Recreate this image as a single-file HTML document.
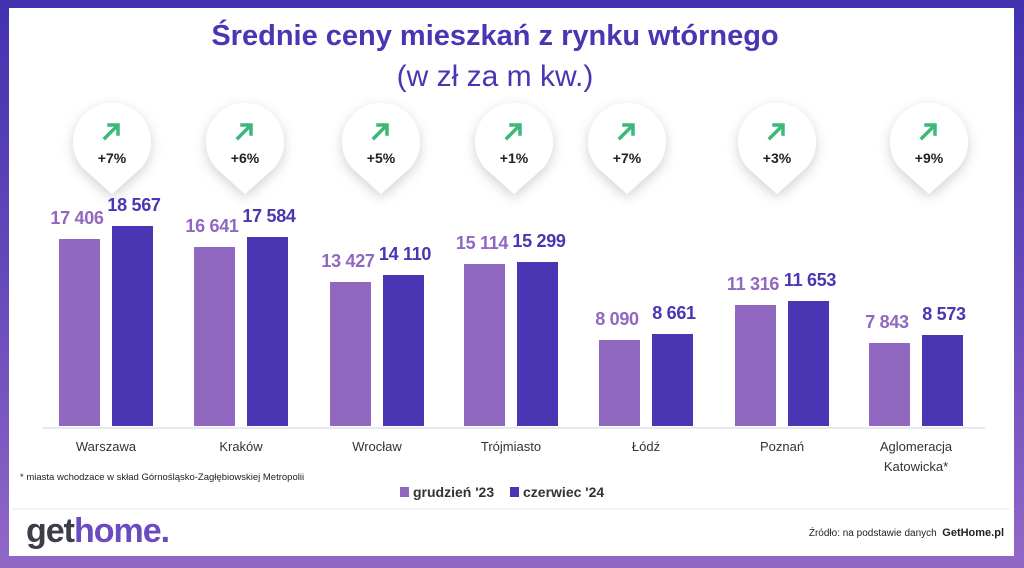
<!DOCTYPE html>
<html><head><meta charset="utf-8"><style>
body{margin:0;width:1024px;height:568px;overflow:hidden;font-family:"Liberation Sans",sans-serif;background:linear-gradient(180deg,#4232b0 0%,#6a4cbc 55%,#9168c6 100%);position:relative}
#card{position:absolute;left:9px;top:8px;width:1005px;height:548px;background:#fff}
.a{position:absolute}
.t{font-weight:bold;color:#4a36b3;font-size:29px;left:0;width:990px;text-align:center;top:20px}
.s{color:#4a36b3;font-size:30px;left:0;width:990px;text-align:center;top:60px}
.bl{background:#9068c0}.bd{background:#4a36b3}
.v{font-weight:bold;font-size:18px;text-align:center;width:80px;letter-spacing:-0.3px}
.city{font-size:13px;color:#333;text-align:center;width:120px;line-height:20px}
</style></head><body>
<div id="card"></div>
<div class="a t">Średnie ceny mieszkań z rynku wtórnego</div>
<div class="a s">(w zł za m kw.)</div>
<svg class="a" style="left:0;top:0" width="1024" height="568">
<defs><filter id="sh" x="-50%" y="-50%" width="200%" height="200%"><feDropShadow dx="0" dy="4" stdDeviation="6" flood-color="#000" flood-opacity="0.18"/></filter></defs>
<g font-family="Liberation Sans" font-weight="bold" font-size="14" text-anchor="middle" fill="#222">
<g id="bub">
</g>
</g>
<line x1="42" y1="428" x2="985" y2="428" stroke="#e4e4e8" stroke-width="1.5"/>
<line x1="12" y1="509" x2="1010" y2="509" stroke="#e8e8ec" stroke-width="1"/>
</svg>
<div id="c"></div>
<script>
var d=[["Warszawa",112,239,226,"17 406","18 567","+7%"],["Kraków",245,247,237,"16 641","17 584","+6%"],["Wrocław",381,282,275,"13 427","14 110","+5%"],["Trójmiasto",514,264,262,"15 114","15 299","+1%"],["Łódź",627,340,334,"8 090","8 661","+7%"],["Poznań",777,305,301,"11 316","11 653","+3%"],["Aglomeracja<br>Katowicka*",929,343,335,"7 843","8 573","+9%"]];
var bx=[59,194,330,464,599,735,869],h="",svg="";
d.forEach(function(e,i){var x=bx[i];
h+='<div class="a bl" style="left:'+x+'px;top:'+e[2]+'px;width:41px;height:'+(426-e[2])+'px"></div>';
h+='<div class="a bd" style="left:'+(x+53)+'px;top:'+e[3]+'px;width:41px;height:'+(426-e[3])+'px"></div>';
h+='<div class="a v" style="left:'+(x-22)+'px;top:'+(e[2]-31)+'px;color:#9068c0">'+e[4]+'</div>';
h+='<div class="a v" style="left:'+(x+35)+'px;top:'+(e[3]-31)+'px;color:#4a36b3">'+e[5]+'</div>';
h+='<div class="a city" style="left:'+(x+47-60)+'px;top:437px">'+e[0]+'</div>';
var c=e[1];
svg+='<path filter="url(#sh)" fill="#fff" d="M'+c+' 194 L'+(c-29)+' 168 A39 39 0 1 1 '+(c+29)+' 168 Z"/>';
svg+='<path d="M'+(c-7)+' 138 L'+(c+5)+' 126 M'+(c-3)+' 125 L'+(c+6)+' 125 L'+(c+6)+' 134" stroke="#3cb878" stroke-width="3.5" fill="none" stroke-linecap="square"/>';
svg+='<text x="'+c+'" y="163">'+e[6]+'</text>';
});
document.getElementById("c").innerHTML=h;
document.getElementById("bub").innerHTML=svg;
</script>
<div class="a" style="left:20px;top:472px;font-size:9.5px;color:#222">* miasta wchodzace w skład Górnośląsko-Zagłębiowskiej Metropolii</div>
<div class="a" style="left:400px;top:484px;font-size:14px;font-weight:bold;color:#333"><span style="display:inline-block;width:9px;height:10px;background:#9068c0;margin-right:4px"></span>grudzień '23 <span style="display:inline-block;width:9px;height:10px;background:#4a36b3;margin:0 4px 0 12px"></span>czerwiec '24</div>
<div class="a" style="left:26px;top:512px;font-size:34px;font-weight:bold;letter-spacing:-1px"><span style="color:#3d3d4a">get</span><span style="color:#6a4cc0">home.</span></div>
<div class="a" style="left:770px;top:527px;font-size:10px;color:#222;width:234px;text-align:right">Źródło: na podstawie danych&nbsp; <b style="font-size:11px">GetHome.pl</b></div>
</body></html>
